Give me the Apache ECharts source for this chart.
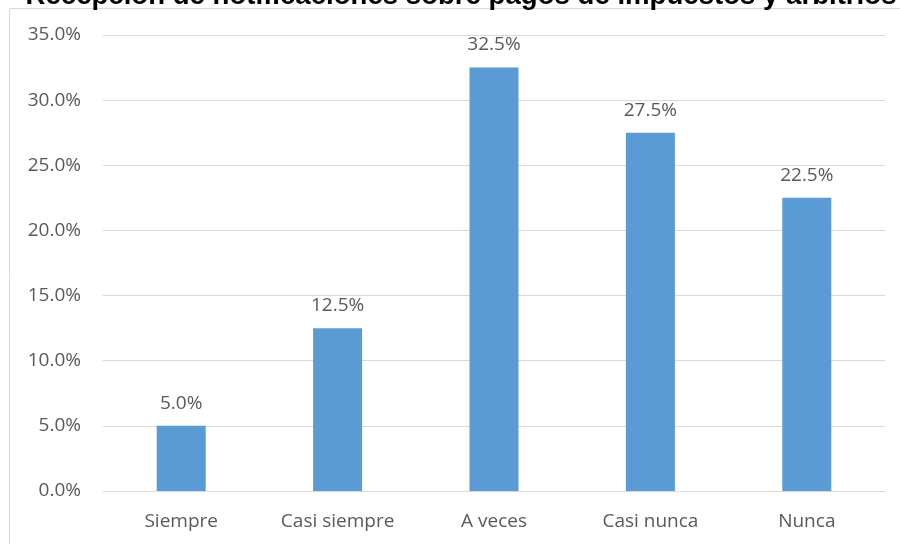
<!DOCTYPE html>
<html>
<head>
<meta charset="utf-8">
<script src="https://cdn.jsdelivr.net/npm/echarts@6/dist/echarts.min.js"></script>
<style>
  html, body { margin: 0; padding: 0; background: #fff; }
  #chart { width: 900px; height: 544px; }
</style>
</head>
<body>
<div id="chart"></div>
<script>
var titleText = "Recepción de notificaciones sobre pagos de impuestos y arbitrios";
var categories = ["Siempre", "Casi siempre", "A veces", "Casi nunca", "Nunca"];
var values = [5.0, 12.5, 32.5, 27.5, 22.5];

var chart = echarts.init(document.getElementById("chart"));

var option = {
  animation: false,
  backgroundColor: "#fff",
  graphic: [
    {
      type: "rect",
      shape: { x: 9.5, y: 8.5, width: 900, height: 600 },
      style: { fill: "none", stroke: "#d9d9d9", lineWidth: 1 },
      z: 0
    },
    {
      type: "text",
      x: 461,
      y: 10,
      style: {
        text: titleText,
        fill: "#000",
        font: "bold 27.6px 'Liberation Sans', Arial, sans-serif",
        align: "center",
        verticalAlign: "bottom"
      },
      z: 10
    }
  ],
  grid: {
    left: 103,
    right: 15,
    top: 35,
    bottom: 53
  },
  xAxis: {
    type: "category",
    data: categories,
    axisLine: { lineStyle: { color: "#d9d9d9", width: 1 } },
    axisTick: { show: false },
    axisLabel: {
      color: "#595959",
      fontFamily: "Open Sans",
      fontSize: 19,
      margin: 21
    }
  },
  yAxis: {
    type: "value",
    min: 0,
    max: 35,
    interval: 5,
    axisLine: { show: false },
    axisTick: { show: false },
    axisLabel: {
      color: "#595959",
      fontFamily: "Open Sans",
      fontSize: 19,
      margin: 22,
      formatter: function (v) { return v.toFixed(1) + "%"; }
    },
    splitLine: { lineStyle: { color: "#d9d9d9", width: 1 } }
  },
  series: [
    {
      type: "bar",
      data: values,
      barWidth: 49,
      itemStyle: { color: "#5b9bd5" },
      label: {
        show: true,
        position: "top",
        distance: 13,
        color: "#595959",
        fontFamily: "Open Sans",
        fontSize: 19,
        formatter: function (p) { return p.value.toFixed(1) + "%"; }
      }
    }
  ]
};

chart.setOption(option);
</script>
</body>
</html>
